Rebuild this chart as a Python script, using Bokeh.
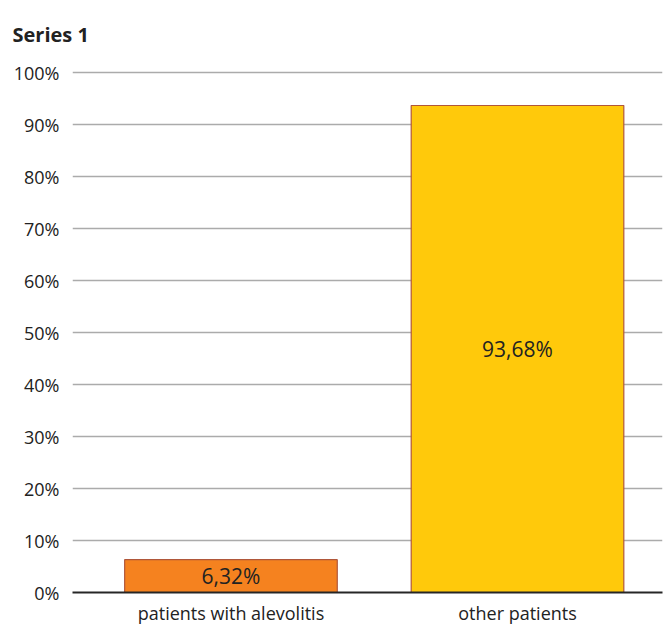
from bokeh.plotting import figure
from bokeh.models import ColumnDataSource, Range1d, FixedTicker, LabelSet
from bokeh.core.properties import value
from bokeh.embed import file_html
from bokeh.resources import INLINE

# Data
categories = ["patients with alevolitis", "other patients"]
shares = [6.32, 93.68]
bar_colors = ["#F5821F", "#FFC90B"]
label_texts = ["6,32%", "93,68%"]
y_ticks = [0, 10, 20, 30, 40, 50, 60, 70, 80, 90, 100]
chart_title = "Series 1"

FONT = "Open Sans"
TEXT = "#222222"

xs = list(range(len(categories)))
source = ColumnDataSource(dict(
    x=xs,
    top=shares,
    mid=[v / 2 for v in shares],
    color=bar_colors,
    label=label_texts,
))

p = figure(
    frame_width=590, frame_height=523,
    output_backend="svg", toolbar_location=None,
    x_range=Range1d(-0.553, 1.506), y_range=Range1d(0, 100.6),
    min_border_left=72, min_border_right=6,
    min_border_top=69, min_border_bottom=30,
)
p.outline_line_color = None
p.background_fill_color = "white"
p.border_fill_color = "white"

# Title, pinned to the top of the space above the plot
p.title.text = chart_title
p.title.text_font = FONT
p.title.text_font_size = "20px"
p.title.text_font_style = "bold"
p.title.text_color = TEXT
p.title.align = "left"
p.title.offset = -60
p.title.standoff = 40
p.title.vertical_align = "top"

# Bars
p.vbar(x="x", top="top", bottom=0, width=0.742, source=source,
       fill_color="color", line_color="#B0573A", line_width=1.2)

# Value labels centred in each bar
labels = LabelSet(x="x", y="mid", text="label", source=source,
                  text_align="center", text_baseline="middle",
                  text_font=value(FONT), text_font_size="21px", text_color=TEXT)
p.add_layout(labels)

# Y axis: percentage labels, no axis line or ticks
p.yaxis.ticker = FixedTicker(ticks=y_ticks)
p.yaxis.major_label_overrides = {t: f"{t}%" for t in y_ticks}
p.yaxis.axis_line_color = None
p.yaxis.major_tick_line_color = None
p.yaxis.minor_tick_line_color = None
p.yaxis.major_label_text_font = FONT
p.yaxis.major_label_text_font_size = "18px"
p.yaxis.major_label_text_color = TEXT
p.yaxis.major_label_standoff = 7

# X axis: category names under the bars
p.xaxis.ticker = FixedTicker(ticks=xs)
p.xaxis.major_label_overrides = {i: c for i, c in enumerate(categories)}
p.xaxis.axis_line_color = "#262626"
p.xaxis.axis_line_width = 2
p.xaxis.major_tick_line_color = None
p.xaxis.minor_tick_line_color = None
p.xaxis.major_label_text_font = FONT
p.xaxis.major_label_text_font_size = "18px"
p.xaxis.major_label_text_color = TEXT
p.xaxis.major_label_standoff = 2

# Grid
p.xgrid.grid_line_color = None
p.ygrid.ticker = FixedTicker(ticks=y_ticks)
p.ygrid.grid_line_color = "#ABABAB"
p.ygrid.grid_line_width = 1.5

open("out.html", "w").write(file_html(p, INLINE))
